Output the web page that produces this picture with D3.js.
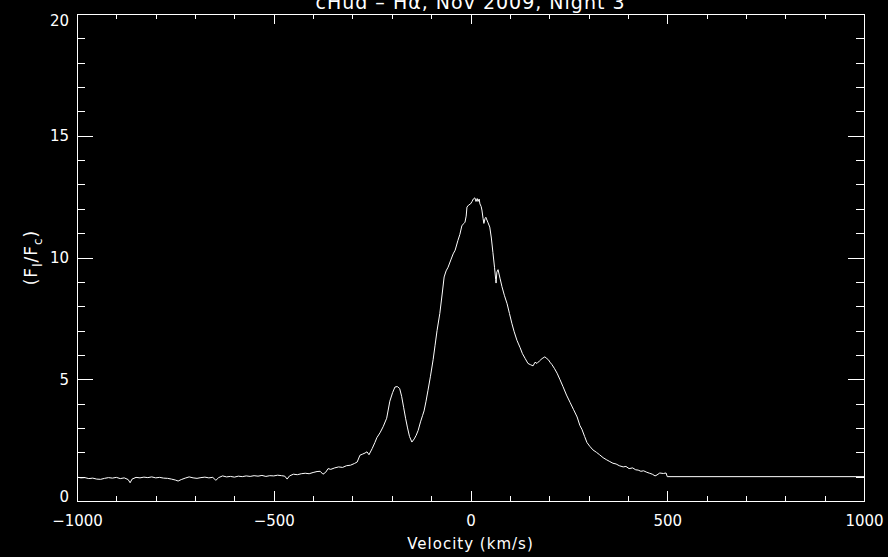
<!DOCTYPE html>
<html>
<head>
<meta charset="utf-8">
<script src="https://cdn.jsdelivr.net/npm/d3@7"></script>
<style>
  html, body { margin: 0; padding: 0; background: #000; overflow: hidden; }
  svg { display: block; }
  text { font-family: "DejaVu Sans", sans-serif; fill: #fff; }
</style>
</head>
<body>
<svg id="chart" width="888" height="557"></svg>
<script>
// spectrum (velocity in km/s, normalised flux)
const velocity = [
  -1000, -990, -980, -970, -960, -950, -940, -930, -920, -910,
  -900, -890, -880, -870, -865, -860, -850, -840, -830, -820,
  -810, -800, -790, -780, -770, -760, -750, -743, -735, -725,
  -715, -705, -695, -685, -675, -665, -655, -647, -640, -630,
  -620, -610, -600, -590, -580, -570, -560, -550, -540, -530,
  -520, -510, -500, -490, -480, -472, -466, -460, -450, -440,
  -430, -420, -410, -400, -390, -382, -375, -368, -362, -355,
  -345, -335, -325, -315, -305, -295, -288, -281, -275, -268,
  -263, -258, -250, -243, -238, -230, -222, -213, -205, -198,
  -192, -186, -180, -175, -170, -165, -160, -155, -149, -143,
  -138, -133, -127, -122, -118, -113, -108, -102, -95, -90,
  -85, -78, -72, -67, -62, -57, -50, -44, -39, -32,
  -27, -22, -17, -14, -11, -9, -5, 0, 4, 7,
  11, 14, 17, 19, 22, 24, 27, 29, 32, 34,
  37, 39, 44, 49, 53, 57, 61, 64, 65, 67,
  70, 75, 80, 86, 93, 99, 105, 111, 118, 122,
  126, 132, 139, 146, 152, 159, 164, 169, 175, 182,
  189, 194, 198, 202, 207, 213, 220, 227, 235, 244,
  253, 262, 271, 278, 283, 290, 296, 303, 311, 320,
  328, 337, 345, 354, 362, 370, 378, 388, 395, 403,
  412, 420, 426, 433, 440, 448, 455, 462, 469, 474,
  481, 490, 497, 500, 1000
];
const flux = [
  0.98, 0.95, 0.96, 0.92, 0.94, 0.90, 0.89, 0.93, 0.96, 0.94,
  0.97, 0.92, 0.95, 0.88, 0.75, 0.90, 0.97, 0.95, 0.98, 0.96,
  0.99, 0.95, 0.97, 0.94, 0.93, 0.90, 0.86, 0.82, 0.88, 0.94,
  0.99, 0.95, 0.93, 0.96, 0.98, 0.95, 0.97, 0.85, 0.96, 1.03,
  0.99, 1.01, 0.98, 1.02, 1.00, 1.03, 1.01, 1.04, 1.02, 1.05,
  1.01, 1.04, 1.03, 1.06, 1.04, 1.02, 0.90, 1.03, 1.10, 1.08,
  1.12, 1.14, 1.12, 1.17, 1.21, 1.22, 1.10, 1.18, 1.33, 1.30,
  1.36, 1.40, 1.38, 1.45, 1.47, 1.54, 1.60, 1.88, 1.92, 1.97,
  2.02, 1.90, 2.15, 2.40, 2.60, 2.80, 3.05, 3.40, 4.10, 4.45,
  4.68, 4.70, 4.62, 4.30, 3.85, 3.40, 3.00, 2.65, 2.42, 2.55,
  2.70, 2.90, 3.25, 3.50, 3.70, 4.10, 4.55, 5.10, 5.80, 6.40,
  7.00, 7.70, 8.50, 9.20, 9.45, 9.60, 9.90, 10.15, 10.30, 10.70,
  10.95, 11.30, 11.40, 11.45, 11.70, 12.07, 12.15, 12.20, 12.30, 12.40,
  12.45, 12.30, 12.42, 12.30, 12.40, 12.20, 12.10, 11.95, 11.60, 11.40,
  11.60, 11.65, 11.45, 11.25, 10.80, 10.20, 9.60, 9.10, 8.95, 9.40,
  9.50, 9.15, 8.80, 8.45, 8.10, 7.70, 7.30, 6.95, 6.60, 6.45,
  6.30, 6.05, 5.85, 5.65, 5.60, 5.55, 5.70, 5.65, 5.75, 5.85,
  5.92, 5.85, 5.80, 5.70, 5.60, 5.45, 5.25, 5.00, 4.70, 4.35,
  4.05, 3.75, 3.45, 3.10, 2.95, 2.65, 2.40, 2.25, 2.10, 2.00,
  1.90, 1.78, 1.70, 1.62, 1.55, 1.52, 1.45, 1.40, 1.42, 1.33,
  1.36, 1.28, 1.27, 1.22, 1.24, 1.18, 1.14, 1.10, 1.03, 1.07,
  1.15, 1.13, 1.15, 1.00, 1.00
];

const xMajorTicks = [-1000, -500, 0, 500, 1000];
const xMinorTicks = [-900, -800, -700, -600, -400, -300, -200, -100,
                     100, 200, 300, 400, 600, 700, 800, 900];
const yMajorTicks = [0, 5, 10, 15, 20];
const yMinorTicks = [1, 2, 3, 4, 6, 7, 8, 9, 11, 12, 13, 14, 16, 17, 18, 19];

const titleText = "cHud \u2013 H\u03b1, Nov 2009, Night 3";
const xTitle = "Velocity (km/s)";

const margin = { top: 14, right: 24, bottom: 56, left: 77 };
const W = 888, H = 557;

const svg = d3.select("#chart");

const x = d3.scaleLinear().domain([-1000, 1000]).range([margin.left, W - margin.right]);
const y = d3.scaleLinear().domain([0, 20]).range([H - margin.bottom, margin.top]);

function styleAxis(g) {
  g.selectAll("path, line").attr("stroke", "#fff").attr("shape-rendering", "crispEdges");
  g.selectAll("text").attr("fill", "#fff").attr("font-size", 15)
    .attr("font-family", "DejaVu Sans, sans-serif");
}

// bottom
svg.append("g").attr("transform", `translate(0,${y(0)})`)
  .call(d3.axisBottom(x).tickValues(xMajorTicks).tickSize(-10).tickSizeOuter(0)
    .tickPadding(14).tickFormat(d3.format("d")))
  .call(styleAxis);
svg.append("g").attr("transform", `translate(0,${y(0)})`)
  .call(d3.axisBottom(x).tickValues(xMinorTicks).tickSize(-5).tickFormat(""))
  .call(g => g.select(".domain").remove())
  .call(styleAxis);

// top
svg.append("g").attr("transform", `translate(0,${y(20)})`)
  .call(d3.axisTop(x).tickValues(xMajorTicks).tickSize(-10).tickSizeOuter(0).tickFormat(""))
  .call(styleAxis);
svg.append("g").attr("transform", `translate(0,${y(20)})`)
  .call(d3.axisTop(x).tickValues(xMinorTicks).tickSize(-5).tickFormat(""))
  .call(g => g.select(".domain").remove())
  .call(styleAxis);

// left
svg.append("g").attr("transform", `translate(${x(-1000)},0)`)
  .call(d3.axisLeft(y).tickValues(yMajorTicks).tickSize(-16).tickSizeOuter(0)
    .tickPadding(8).tickFormat(d3.format("d")))
  .call(styleAxis)
  .call(g => g.selectAll(".tick text").attr("dy", d => d === 0 ? "0.06em" : d === 20 ? "0.75em" : "0.32em"));
svg.append("g").attr("transform", `translate(${x(-1000)},0)`)
  .call(d3.axisLeft(y).tickValues(yMinorTicks).tickSize(-8).tickFormat(""))
  .call(g => g.select(".domain").remove())
  .call(styleAxis);

// right
svg.append("g").attr("transform", `translate(${x(1000)},0)`)
  .call(d3.axisRight(y).tickValues(yMajorTicks).tickSize(-16).tickSizeOuter(0).tickFormat(""))
  .call(styleAxis);
svg.append("g").attr("transform", `translate(${x(1000)},0)`)
  .call(d3.axisRight(y).tickValues(yMinorTicks).tickSize(-8).tickFormat(""))
  .call(g => g.select(".domain").remove())
  .call(styleAxis);

// spectrum
const line = d3.line()
  .x((d, i) => x(velocity[i]))
  .y(d => y(d));

svg.append("path")
  .datum(flux)
  .attr("d", line)
  .attr("fill", "none")
  .attr("stroke", "#fff")
  .attr("stroke-width", 1);

// titles
svg.append("text")
  .attr("x", x(0)).attr("y", 9)
  .attr("text-anchor", "middle")
  .attr("font-size", 19)
  .attr("letter-spacing", 1)
  .text(titleText);

svg.append("text")
  .attr("x", x(0)).attr("y", 549)
  .attr("text-anchor", "middle")
  .attr("font-size", 15)
  .attr("letter-spacing", 1)
  .text(xTitle);

const yt = svg.append("text")
  .attr("transform", `translate(37,${y(10)}) rotate(-90)`)
  .attr("text-anchor", "middle")
  .attr("font-size", 17)
  .attr("letter-spacing", 1);
yt.append("tspan").text("(F");
yt.append("tspan").attr("font-size", 12).attr("dy", 5).text("l");
yt.append("tspan").attr("dy", -5).text("/F");
yt.append("tspan").attr("font-size", 12).attr("dy", 5).text("c");
yt.append("tspan").attr("dy", -5).text(")");
</script>
</body>
</html>
